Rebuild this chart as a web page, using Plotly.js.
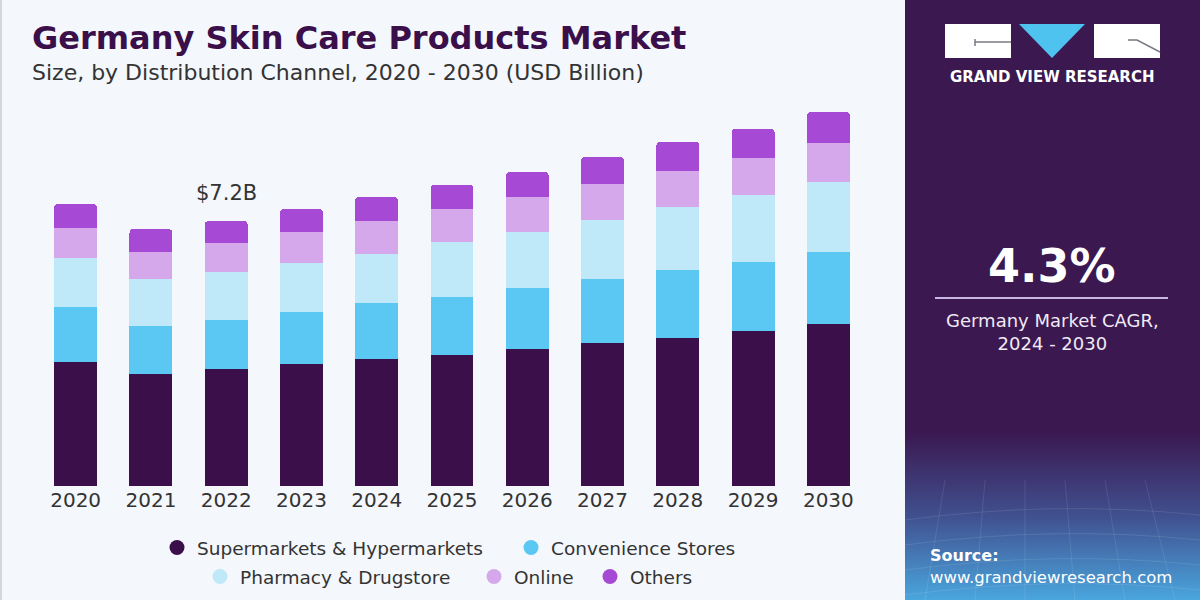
<!DOCTYPE html>
<html>
<head>
<meta charset="utf-8">
<script src="https://cdn.plot.ly/plotly-3.0.1.min.js"></script>
<style>
  html, body { margin: 0; padding: 0; background: #f4f7fb; }
  #chart { width: 1200px; height: 600px; }
</style>
</head>
<body>
<div id="chart"></div>
<script>
// ---------------- DATA ----------------
const years = ['2020', '2021', '2022', '2023', '2024', '2025', '2026', '2027', '2028', '2029', '2030'];
const supermarkets = [3.37, 3.04, 3.18, 3.32, 3.45, 3.56, 3.72, 3.89, 4.02, 4.21, 4.40];
const convenience  = [1.49, 1.30, 1.33, 1.41, 1.52, 1.58, 1.66, 1.74, 1.85, 1.88, 1.96];
const pharmacy     = [1.33, 1.28, 1.30, 1.33, 1.33, 1.49, 1.52, 1.60, 1.71, 1.82, 1.90];
const online       = [0.82, 0.73, 0.79, 0.84, 0.90, 0.90, 0.95, 0.98, 0.98, 1.01, 1.06];
const others       = [0.65, 0.63, 0.60, 0.63, 0.65, 0.65, 0.68, 0.73, 0.79, 0.79, 0.84];
const seriesNames  = ['Supermarkets & Hypermarkets', 'Convenience Stores', 'Pharmacy & Drugstore', 'Online', 'Others'];
const seriesValues = [supermarkets, convenience, pharmacy, online, others];
const seriesColors = ['#3a0f4a', '#5bc8f4', '#bfe8f8', '#d5a8ec', '#a64ad6'];
const highlightYear = '2022';
const highlightLabel = '$7.2B';
const cagrValue = '4.3%';
const cagrLabel = 'Germany Market CAGR,<br>2024 - 2030';
const titleText = 'Germany Skin Care Products Market';
const subtitleText = 'Size, by Distribution Channel, 2020 - 2030 (USD Billion)';

// ---------------- HELPERS (layout only) ----------------
const W = 1200, H = 600;
const px = v => v / W;
const py = v => 1 - v / H;
const FONT = 'DejaVu Sans, Verdana, sans-serif';

// ---------------- TRACES ----------------
const traces = [];
seriesNames.forEach((name, i) => {
  traces.push({
    type: 'bar',
    x: years,
    y: seriesValues[i],
    name: name,
    marker: { color: seriesColors[i], line: { width: 0 } },
    showlegend: false,
    hoverinfo: 'x+y+name'
  });
});
// legend entries (circle symbols), one legend each for exact placement
const legendIds = ['legend', 'legend2', 'legend3', 'legend4', 'legend5'];
seriesNames.forEach((name, i) => {
  traces.push({
    type: 'scatter',
    mode: 'markers',
    x: [years[0]],
    y: [null],
    name: name,
    legend: legendIds[i],
    marker: { color: seriesColors[i], size: 15, symbol: 'circle' },
    hoverinfo: 'skip'
  });
});

// total for the highlighted year (category index used for the label position)
const hi = years.indexOf(highlightYear);
const hiTotal = seriesValues.reduce((s, arr) => s + arr[hi], 0);

// legend positions (marker centres in px)
const legendPos = [[177, 548], [531, 548], [220, 577], [494, 577], [610, 577]];
const legFont = { family: FONT, size: 18.5, color: '#333333' };
const legendLayouts = {};
legendIds.forEach((id, i) => {
  legendLayouts[id] = {
    orientation: 'h',
    x: px(legendPos[i][0] - 20),
    y: py(legendPos[i][1]),
    xanchor: 'left',
    yanchor: 'middle',
    bgcolor: 'rgba(0,0,0,0)',
    borderwidth: 0,
    font: legFont,
    itemclick: false,
    itemdoubleclick: false
  };
});

// right panel background image (gradient)
const panelSvg =
  '<svg xmlns="http://www.w3.org/2000/svg" width="295" height="600" viewBox="0 0 295 600">' +
  '<defs><linearGradient id="g" x1="0" y1="0" x2="0" y2="1">' +
  '<stop offset="0" stop-color="#3b1850"/>' +
  '<stop offset="0.72" stop-color="#3b1850"/>' +
  '<stop offset="0.86" stop-color="#40508f"/>' +
  '<stop offset="1" stop-color="#4aa6de"/>' +
  '</linearGradient></defs>' +
  '<rect width="295" height="600" fill="url(#g)"/>' +
  '<g stroke="#ffffff" stroke-opacity="0.10" stroke-width="1" fill="none">' +
  '<path d="M0 520 Q150 500 295 515"/><path d="M0 545 Q150 525 295 540"/><path d="M0 570 Q150 550 295 565"/>' +
  '<path d="M0 595 Q150 575 295 590"/><path d="M40 480 L20 600"/><path d="M80 480 L70 600"/>' +
  '<path d="M120 480 L120 600"/><path d="M160 480 L170 600"/><path d="M200 480 L220 600"/><path d="M240 480 L270 600"/>' +
  '</g></svg>';
const panelSrc = 'data:image/svg+xml;base64,' + btoa(panelSvg);

const shapes = [
  // thin left border
  { type: 'line', xref: 'paper', yref: 'paper', x0: px(1), x1: px(1), y0: 0, y1: 1, line: { color: '#d4d6da', width: 2 } },
  // logo box 1
  { type: 'rect', xref: 'paper', yref: 'paper', x0: px(945), x1: px(1011), y0: py(58), y1: py(24), fillcolor: '#ffffff', line: { width: 0 } },
  { type: 'path', xref: 'paper', yref: 'paper',
    path: `M ${px(975)} ${py(39)} L ${px(975)} ${py(46)} M ${px(975)} ${py(42)} L ${px(1011)} ${py(42)}`,
    line: { color: '#7a7a86', width: 1.5 } },
  // logo triangle
  { type: 'path', xref: 'paper', yref: 'paper',
    path: `M ${px(1019)} ${py(24)} L ${px(1085)} ${py(24)} L ${px(1052)} ${py(58)} Z`,
    fillcolor: '#4fc3f0', line: { width: 0 } },
  // logo box 3
  { type: 'rect', xref: 'paper', yref: 'paper', x0: px(1094), x1: px(1160), y0: py(58), y1: py(24), fillcolor: '#ffffff', line: { width: 0 } },
  { type: 'path', xref: 'paper', yref: 'paper',
    path: `M ${px(1128)} ${py(40)} L ${px(1137)} ${py(40)} L ${px(1160)} ${py(52)}`,
    line: { color: '#7a7a86', width: 1.5 } },
  // CAGR divider line
  { type: 'line', xref: 'paper', yref: 'paper', x0: px(935), x1: px(1168), y0: py(298), y1: py(298), line: { color: '#c9b6e2', width: 2 } }
];

const annotations = [
  { xref: 'paper', yref: 'paper', x: px(30), y: py(38), xanchor: 'left', yanchor: 'middle', showarrow: false,
    text: titleText, font: { family: FONT, size: 32, color: '#3a0f4a', weight: 700 } },
  { xref: 'paper', yref: 'paper', x: px(30), y: py(72), xanchor: 'left', yanchor: 'middle', showarrow: false,
    text: subtitleText, font: { family: FONT, size: 22, color: '#333333' } },
  { xref: 'x', yref: 'y', x: hi, y: hiTotal, xanchor: 'center', yanchor: 'bottom', yshift: 14, showarrow: false,
    text: highlightLabel, font: { family: FONT, size: 21, color: '#333333' } },
  { xref: 'paper', yref: 'paper', x: px(1052), y: py(77), xanchor: 'center', yanchor: 'middle', showarrow: false,
    text: 'GRAND VIEW RESEARCH', font: { family: FONT, size: 15, color: '#ffffff', weight: 700 } },
  { xref: 'paper', yref: 'paper', x: px(1052), y: py(266), xanchor: 'center', yanchor: 'middle', showarrow: false,
    text: cagrValue, font: { family: FONT, size: 46, color: '#ffffff', weight: 700 } },
  { xref: 'paper', yref: 'paper', x: px(1052), y: py(332), xanchor: 'center', yanchor: 'middle', showarrow: false,
    text: cagrLabel, font: { family: FONT, size: 18, color: '#f0eaf6' } },
  { xref: 'paper', yref: 'paper', x: px(928), y: py(555), xanchor: 'left', yanchor: 'middle', showarrow: false,
    text: 'Source:', font: { family: FONT, size: 16, color: '#ffffff', weight: 700 } },
  { xref: 'paper', yref: 'paper', x: px(928), y: py(577), xanchor: 'left', yanchor: 'middle', showarrow: false,
    text: 'www.grandviewresearch.com', font: { family: FONT, size: 16.5, color: '#ffffff' } }
];

const yTop = 100, yBase = 486, pxPerUnit = 36.8;

const layout = Object.assign({
  width: W,
  height: H,
  margin: { l: 0, r: 0, t: 0, b: 0 },
  paper_bgcolor: '#f4f7fb',
  plot_bgcolor: 'rgba(0,0,0,0)',
  barmode: 'stack',
  bargap: 0.43,
  barcornerradius: 4,
  font: { family: FONT, color: '#333333' },
  xaxis: {
    type: 'category',
    domain: [px(38), px(866)],
    range: [-0.5, years.length - 0.5],
    autorange: false,
    showgrid: false, zeroline: false, showline: false, ticks: '',
    tickfont: { family: FONT, size: 20, color: '#333333' },
    automargin: false,
    fixedrange: true
  },
  yaxis: {
    domain: [py(yBase), py(yTop)],
    range: [0, (yBase - yTop) / pxPerUnit],
    autorange: false,
    visible: false,
    showgrid: false, zeroline: false,
    automargin: false,
    fixedrange: true
  },
  images: [{
    source: panelSrc, xref: 'paper', yref: 'paper',
    x: px(905), y: 1, sizex: px(295), sizey: 1,
    xanchor: 'left', yanchor: 'top', sizing: 'stretch', layer: 'below'
  }],
  shapes: shapes,
  annotations: annotations,
  hovermode: 'closest'
}, legendLayouts);

Plotly.newPlot('chart', traces, layout, { displayModeBar: false });
</script>
</body>
</html>
